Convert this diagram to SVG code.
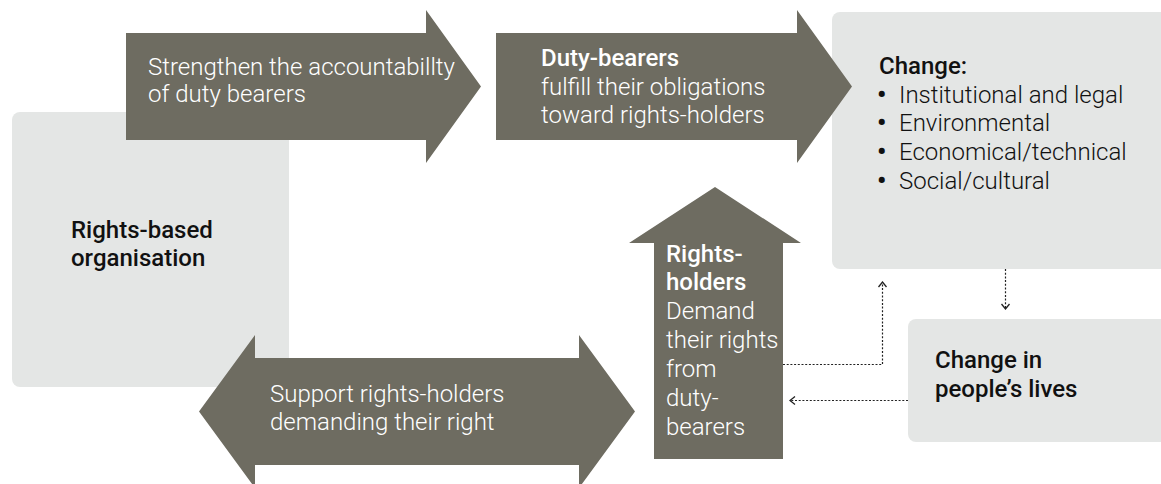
<svg xmlns="http://www.w3.org/2000/svg" width="1161" height="484" viewBox="0 0 1161 484">
  <defs>
    <marker id="chev" viewBox="0 0 10 10" refX="9" refY="5" markerWidth="10" markerHeight="10" markerUnits="userSpaceOnUse" orient="auto">
      <path d="M4,1 L9,5 L4,9" fill="none" stroke="#222" stroke-width="1.3"/>
    </marker>
  </defs>
  <style>
    .box { fill: #e4e6e5; }
    .arrow { fill: #6e6c61; }
    .lt { font-family: Roboto, "Liberation Sans", sans-serif; font-weight: 300; font-size: 24px; fill: #ffffff; }
    .bw { font-family: Roboto, "Liberation Sans", sans-serif; font-weight: 500; font-size: 24px; fill: #ffffff; }
    .bd { font-family: Roboto, "Liberation Sans", sans-serif; font-weight: 500; font-size: 24px; fill: #111111; }
    .ld { font-family: Roboto, "Liberation Sans", sans-serif; font-weight: 300; font-size: 24px; fill: #111111; }
    .bul { font-family: Roboto, "Liberation Sans", sans-serif; font-weight: 700; font-size: 26px; fill: #111111; }
    .conn { fill: none; stroke: #222; stroke-width: 1.2; stroke-dasharray: 2 1.7; }
  </style>
  <rect width="1161" height="484" fill="#ffffff"/>

  <g id="node-rbo">
    <rect class="box" x="12" y="112" width="277" height="275" rx="8"/>
    <text class="bd" x="71" y="238">Rights-based</text>
    <text class="bd" x="71" y="266">organisation</text>
  </g>

  <g id="node-change">
    <rect class="box" x="832" y="12" width="345" height="257" rx="8"/>
    <text class="bd" x="879" y="74">Change:</text>
    <text class="bul" x="877" y="103">•</text>
    <text class="ld" x="899" y="103">Institutional and legal</text>
    <text class="bul" x="877" y="131">•</text>
    <text class="ld" x="899" y="131">Environmental</text>
    <text class="bul" x="877" y="160">•</text>
    <text class="ld" x="899" y="160">Economical/technical</text>
    <text class="bul" x="877" y="189">•</text>
    <text class="ld" x="899" y="189">Social/cultural</text>
  </g>

  <g id="node-lives">
    <rect class="box" x="908" y="319" width="270" height="123" rx="8"/>
    <text class="bd" x="935" y="368">Change in</text>
    <text class="bd" x="935" y="397">people’s lives</text>
  </g>

  <g id="node-strengthen">
    <path class="arrow" d="M126,33 H426 V10 L481,86.5 L426,163 V140 H126 Z"/>
    <text class="lt" x="148" y="75">Strengthen the accountabillty</text>
    <text class="lt" x="148" y="102">of duty bearers</text>
  </g>

  <g id="node-duty">
    <path class="arrow" d="M496,33 H797 V10 L852,86.5 L797,163 V140 H496 Z"/>
    <text class="bw" x="541" y="66">Duty-bearers</text>
    <text class="lt" x="541" y="95">fulfill their obligations</text>
    <text class="lt" x="541" y="123">toward rights-holders</text>
  </g>

  <g id="node-holders">
    <path class="arrow" d="M715,187 L801,243 H783 V459 H654 V243 H629 Z"/>
    <text class="bw" x="666" y="262">Rights-</text>
    <text class="bw" x="666" y="290">holders</text>
    <text class="lt" x="666" y="319">Demand</text>
    <text class="lt" x="666" y="348">their rights</text>
    <text class="lt" x="666" y="377">from</text>
    <text class="lt" x="666" y="406">duty-</text>
    <text class="lt" x="666" y="435">bearers</text>
  </g>

  <g id="node-support">
    <path class="arrow" d="M199,411.5 L255,335 V358 H579 V335 L635,411.5 L579,488 V465 H255 V488 Z"/>
    <text class="lt" x="270" y="402">Support rights-holders</text>
    <text class="lt" x="270" y="430">demanding their right</text>
  </g>

  <g id="connectors">
    <path class="conn" d="M783,364.5 H882.5 V282" marker-end="url(#chev)"/>
    <path class="conn" d="M1005.5,269 V309" marker-end="url(#chev)"/>
    <path class="conn" d="M908,400.5 H790" marker-end="url(#chev)"/>
  </g>
</svg>
